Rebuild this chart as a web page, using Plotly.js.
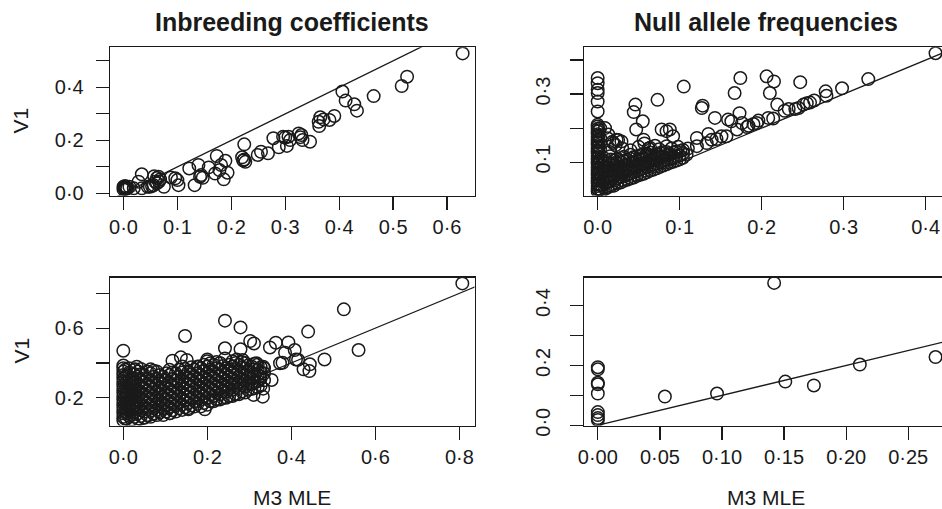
<!DOCTYPE html>
<html>
<head>
<meta charset="utf-8">
<script src="https://cdn.plot.ly/plotly-3.0.1.min.js"></script>
<style>html,body{margin:0;padding:0;background:#fff;}#chart{width:942px;height:509px;}</style>
</head>
<body>
<div id="chart"></div>
<script>
// ---------- DATA ----------
const panelTitles = ['Inbreeding coefficients', 'Null allele frequencies'];
const xTitle = 'M3 MLE';
const yTitle = 'V1';

// Top-left: inbreeding coefficients (M3 MLE, V1)
const inbreedTopPts = [
[0.629,0.528],[0.526,0.440],[0.516,0.405],[0.464,0.367],[0.406,0.384],[0.412,0.350],[0.428,0.336],[0.433,0.312],
[0.391,0.292],[0.365,0.287],[0.371,0.279],[0.382,0.277],[0.363,0.254],[0.362,0.270],[0.346,0.195],[0.330,0.220],
[0.325,0.226],[0.332,0.201],[0.328,0.212],[0.306,0.214],[0.300,0.211],[0.296,0.214],[0.303,0.179],[0.288,0.174],
[0.278,0.208],[0.309,0.201],[0.268,0.151],[0.255,0.157],[0.249,0.145],[0.224,0.185],[0.220,0.136],[0.224,0.128],
[0.226,0.119],[0.222,0.124],[0.173,0.141],[0.189,0.123],[0.181,0.107],[0.178,0.088],[0.193,0.078],[0.186,0.053],
[0.170,0.075],[0.158,0.098],[0.139,0.107],[0.122,0.094],[0.142,0.063],[0.147,0.059],[0.144,0.069],[0.132,0.031],
[0.102,0.031],[0.100,0.050],[0.096,0.057],[0.088,0.060],[0.034,0.072],[0.028,0.044],[0.034,0.019],[0.019,0.019],
[0.011,0.025],[0.000,0.025],[0.000,0.015],[0.002,0.018],[0.005,0.022],[0.003,0.028],[0.049,0.025],[0.056,0.031],
[0.062,0.038],[0.065,0.063],[0.057,0.065],[0.068,0.053],[0.075,0.025],[0.059,0.044],[0.053,0.028],[0.045,0.025],
[0.062,0.058],[0.066,0.045],[0.001,0.021],[0.004,0.016],[0.007,0.019]
];

// Top-right: null allele frequencies
const nullTopPts = [
// column at zero
[0,0.014],[0,0.022],[0,0.030],[0,0.038],[0,0.046],[0,0.054],[0,0.062],[0,0.070],[0,0.078],[0,0.086],[0,0.094],
[0,0.102],[0,0.110],[0,0.118],[0,0.126],[0,0.134],[0,0.142],[0,0.150],[0,0.158],[0,0.166],[0,0.174],[0,0.182],
[0,0.190],[0,0.198],[0,0.205],[0,0.210],[0,0.249],[0,0.278],[0,0.303],[0,0.313],[0,0.332],[0,0.347],
[0.003,0.020],[0.003,0.050],[0.003,0.080],[0.003,0.110],[0.003,0.140],[0.003,0.170],[0.003,0.200],
[0.001,0.018],[0.001,0.034],[0.001,0.050],[0.001,0.066],[0.001,0.082],[0.001,0.098],[0.001,0.114],[0.001,0.130],
[0.001,0.146],[0.001,0.162],[0.001,0.178],[0.001,0.194],
// dense wedge
[0.005,0.015],[0.005,0.031],[0.006,0.044],[0.005,0.061],[0.006,0.076],[0.005,0.090],[0.006,0.106],
[0.012,0.025],[0.012,0.041],[0.013,0.055],[0.012,0.071],[0.012,0.086],[0.013,0.100],
[0.020,0.031],[0.021,0.046],[0.020,0.060],[0.020,0.076],[0.021,0.090],[0.020,0.105],
[0.028,0.040],[0.028,0.056],[0.029,0.070],[0.028,0.085],[0.028,0.100],[0.029,0.112],
[0.036,0.048],[0.036,0.062],[0.037,0.077],[0.036,0.092],[0.036,0.107],
[0.044,0.055],[0.044,0.070],[0.045,0.085],[0.044,0.100],[0.044,0.115],
[0.052,0.063],[0.052,0.078],[0.053,0.093],[0.052,0.108],[0.052,0.120],
[0.060,0.070],[0.060,0.085],[0.061,0.100],[0.060,0.115],[0.060,0.125],
[0.068,0.078],[0.068,0.092],[0.069,0.107],[0.068,0.120],
[0.076,0.086],[0.076,0.100],[0.077,0.114],[0.076,0.127],
[0.084,0.094],[0.084,0.107],[0.085,0.120],[0.084,0.130],
[0.092,0.101],[0.092,0.114],[0.093,0.128],
[0.100,0.108],[0.100,0.120],[0.101,0.133],
[0.009,0.022],[0.009,0.037],[0.009,0.052],[0.009,0.068],[0.009,0.083],[0.009,0.098],[0.009,0.110],
[0.016,0.030],[0.016,0.047],[0.016,0.062],[0.016,0.078],[0.016,0.093],[0.016,0.108],
[0.024,0.038],[0.024,0.053],[0.024,0.068],[0.024,0.083],[0.024,0.097],[0.024,0.110],
[0.032,0.045],[0.032,0.060],[0.032,0.075],[0.032,0.090],[0.032,0.104],[0.032,0.116],
[0.040,0.052],[0.040,0.067],[0.040,0.082],[0.040,0.097],[0.040,0.110],[0.040,0.122],
[0.048,0.060],[0.048,0.075],[0.048,0.090],[0.048,0.104],[0.048,0.117],
[0.056,0.066],[0.056,0.082],[0.056,0.097],[0.056,0.111],[0.056,0.124],
[0.064,0.075],[0.064,0.090],[0.064,0.104],[0.064,0.118],[0.064,0.128],
[0.072,0.082],[0.072,0.096],[0.072,0.110],[0.072,0.123],
[0.080,0.090],[0.080,0.104],[0.080,0.117],[0.080,0.129],
[0.088,0.098],[0.088,0.110],[0.088,0.124],
[0.096,0.105],[0.096,0.118],[0.096,0.131],
[0.104,0.113],[0.104,0.126],[0.104,0.136],
// scattered above wedge
[0.012,0.170],[0.018,0.160],[0.025,0.165],[0.022,0.150],[0.030,0.140],[0.015,0.130],[0.050,0.145],[0.057,0.155],
[0.062,0.140],[0.070,0.148],[0.040,0.135],[0.075,0.138],[0.090,0.140],[0.098,0.145],[0.110,0.140],
[0.009,0.200],[0.013,0.181],[0.015,0.117],[0.019,0.156],[0.023,0.166],[0.029,0.161],[0.056,0.166],[0.047,0.196],
[0.055,0.220],[0.078,0.196],[0.084,0.191],[0.088,0.196],[0.092,0.176],[0.084,0.147],[0.064,0.142],
[0.121,0.171],[0.135,0.183],[0.151,0.176],[0.139,0.166],
[0.046,0.269],[0.044,0.247],[0.073,0.283],[0.105,0.322],[0.128,0.266],[0.127,0.259],[0.143,0.230],[0.173,0.244],
[0.159,0.225],[0.163,0.220],[0.176,0.215],[0.184,0.207],[0.196,0.222],[0.208,0.230],[0.214,0.228],[0.190,0.212],
[0.174,0.347],[0.167,0.303],[0.206,0.352],[0.215,0.337],[0.247,0.335],[0.210,0.303],[0.219,0.269],
// chain along the diagonal
[0.1085,0.122],[0.121,0.147],[0.133,0.156],[0.145,0.168],[0.157,0.176],[0.170,0.196],[0.182,0.203],[0.194,0.215],
[0.228,0.251],[0.233,0.256],[0.241,0.256],[0.245,0.259],[0.251,0.269],[0.255,0.273],[0.259,0.275],[0.264,0.281],
[0.278,0.308],[0.279,0.295],[0.298,0.317],[0.330,0.344],[0.412,0.420]
];

// Bottom-left: inbreeding coefficients (second data set)
const inbreedBotPts = [
// column at zero
[0,0.070],[0,0.090],[0,0.110],[0,0.130],[0,0.150],[0,0.170],[0,0.190],[0,0.210],[0,0.230],[0,0.250],[0,0.270],
[0,0.290],[0,0.310],[0,0.330],[0,0.350],[0,0.370],[0,0.385],[0,0.470],
[0.004,0.080],[0.004,0.120],[0.004,0.160],[0.004,0.200],[0.004,0.240],[0.004,0.280],[0.004,0.320],[0.004,0.360],
// dense cloud
[0.008,0.080],[0.008,0.110],[0.008,0.140],[0.008,0.170],[0.008,0.200],[0.008,0.230],[0.008,0.260],[0.008,0.290],[0.008,0.330],
[0.020,0.075],[0.020,0.100],[0.020,0.130],[0.020,0.160],[0.020,0.190],[0.020,0.220],[0.020,0.250],[0.020,0.280],[0.020,0.310],
[0.035,0.080],[0.035,0.110],[0.035,0.145],[0.035,0.180],[0.035,0.210],[0.035,0.245],[0.035,0.280],[0.035,0.320],[0.035,0.350],
[0.050,0.085],[0.050,0.120],[0.050,0.150],[0.050,0.185],[0.050,0.220],[0.050,0.255],[0.050,0.290],[0.050,0.330],
[0.065,0.090],[0.065,0.125],[0.065,0.160],[0.065,0.195],[0.065,0.230],[0.065,0.265],[0.065,0.300],[0.065,0.340],
[0.080,0.100],[0.080,0.130],[0.080,0.165],[0.080,0.200],[0.080,0.235],[0.080,0.270],[0.080,0.310],[0.080,0.350],
[0.095,0.100],[0.095,0.140],[0.095,0.170],[0.095,0.205],[0.095,0.240],[0.095,0.280],[0.095,0.320],
[0.110,0.110],[0.110,0.145],[0.110,0.180],[0.110,0.215],[0.110,0.250],[0.110,0.285],[0.110,0.330],[0.110,0.360],
[0.125,0.120],[0.125,0.155],[0.125,0.190],[0.125,0.225],[0.125,0.260],[0.125,0.300],[0.125,0.340],
[0.140,0.130],[0.140,0.160],[0.140,0.195],[0.140,0.230],[0.140,0.265],[0.140,0.300],[0.140,0.345],[0.140,0.380],
[0.155,0.140],[0.155,0.170],[0.155,0.205],[0.155,0.240],[0.155,0.275],[0.155,0.310],[0.155,0.350],
[0.170,0.150],[0.170,0.180],[0.170,0.215],[0.170,0.250],[0.170,0.285],[0.170,0.320],[0.170,0.360],
[0.185,0.150],[0.185,0.190],[0.185,0.225],[0.185,0.260],[0.185,0.295],[0.185,0.330],[0.185,0.370],
[0.200,0.160],[0.200,0.200],[0.200,0.235],[0.200,0.270],[0.200,0.305],[0.200,0.340],[0.200,0.380],[0.200,0.410],
[0.215,0.180],[0.215,0.210],[0.215,0.245],[0.215,0.280],[0.215,0.315],[0.215,0.350],[0.215,0.390],
[0.230,0.190],[0.230,0.220],[0.230,0.255],[0.230,0.290],[0.230,0.325],[0.230,0.360],[0.230,0.400],
[0.245,0.200],[0.245,0.235],[0.245,0.270],[0.245,0.300],[0.245,0.335],[0.245,0.370],
[0.260,0.210],[0.260,0.245],[0.260,0.280],[0.260,0.310],[0.260,0.345],[0.260,0.380],[0.260,0.410],
[0.275,0.220],[0.275,0.255],[0.275,0.290],[0.275,0.320],[0.275,0.355],[0.275,0.390],
[0.290,0.230],[0.290,0.265],[0.290,0.300],[0.290,0.335],[0.290,0.370],[0.290,0.400],
[0.305,0.250],[0.305,0.280],[0.305,0.310],[0.305,0.345],[0.305,0.380],
[0.320,0.260],[0.320,0.295],[0.320,0.330],[0.320,0.360],[0.320,0.390],
[0.335,0.300],[0.335,0.340],[0.335,0.370],
[0.014,0.095],[0.014,0.125],[0.014,0.155],[0.014,0.185],[0.014,0.215],[0.014,0.245],[0.014,0.275],[0.014,0.300],[0.014,0.345],[0.014,0.370],
[0.027,0.090],[0.027,0.118],[0.027,0.147],[0.027,0.175],[0.027,0.205],[0.027,0.235],[0.027,0.265],[0.027,0.295],[0.027,0.335],[0.027,0.360],
[0.042,0.095],[0.042,0.128],[0.042,0.162],[0.042,0.195],[0.042,0.228],[0.042,0.262],[0.042,0.300],[0.042,0.335],[0.042,0.365],
[0.057,0.100],[0.057,0.135],[0.057,0.168],[0.057,0.200],[0.057,0.238],[0.057,0.272],[0.057,0.310],[0.057,0.350],
[0.072,0.108],[0.072,0.142],[0.072,0.178],[0.072,0.212],[0.072,0.248],[0.072,0.283],[0.072,0.320],[0.072,0.355],
[0.087,0.115],[0.087,0.148],[0.087,0.182],[0.087,0.218],[0.087,0.252],[0.087,0.290],[0.087,0.330],
[0.102,0.120],[0.102,0.155],[0.102,0.188],[0.102,0.222],[0.102,0.260],[0.102,0.300],[0.102,0.340],
[0.117,0.128],[0.117,0.162],[0.117,0.198],[0.117,0.232],[0.117,0.268],[0.117,0.308],[0.117,0.345],
[0.132,0.140],[0.132,0.172],[0.132,0.208],[0.132,0.242],[0.132,0.280],[0.132,0.320],[0.132,0.360],
[0.147,0.145],[0.147,0.182],[0.147,0.215],[0.147,0.250],[0.147,0.285],[0.147,0.325],[0.147,0.365],
[0.162,0.155],[0.162,0.195],[0.162,0.232],[0.162,0.268],[0.162,0.300],[0.162,0.335],[0.162,0.375],
[0.177,0.165],[0.177,0.200],[0.177,0.235],[0.177,0.270],[0.177,0.305],[0.177,0.340],[0.177,0.380],
[0.192,0.170],[0.192,0.208],[0.192,0.242],[0.192,0.278],[0.192,0.315],[0.192,0.355],[0.192,0.390],
[0.207,0.180],[0.207,0.218],[0.207,0.252],[0.207,0.288],[0.207,0.322],[0.207,0.360],[0.207,0.398],
[0.222,0.190],[0.222,0.228],[0.222,0.262],[0.222,0.298],[0.222,0.332],[0.222,0.370],[0.222,0.405],
[0.237,0.198],[0.237,0.236],[0.237,0.272],[0.237,0.310],[0.237,0.345],[0.237,0.382],
[0.252,0.210],[0.252,0.250],[0.252,0.285],[0.252,0.318],[0.252,0.355],[0.252,0.390],
[0.267,0.220],[0.267,0.260],[0.267,0.295],[0.267,0.330],[0.267,0.365],[0.267,0.400],
[0.282,0.235],[0.282,0.270],[0.282,0.305],[0.282,0.338],[0.282,0.372],[0.282,0.405],
[0.297,0.245],[0.297,0.280],[0.297,0.318],[0.297,0.352],[0.297,0.385],
[0.312,0.255],[0.312,0.290],[0.312,0.325],[0.312,0.362],[0.312,0.395],
[0.327,0.270],[0.327,0.310],[0.327,0.345],[0.327,0.375],
// outer points
[0.807,0.857],[0.525,0.708],[0.560,0.474],[0.440,0.580],[0.479,0.420],[0.242,0.643],[0.279,0.604],[0.147,0.555],
[0.302,0.526],[0.311,0.512],[0.363,0.516],[0.349,0.489],[0.393,0.518],[0.385,0.459],[0.408,0.474],[0.411,0.420],
[0.416,0.418],[0.444,0.392],[0.429,0.363],[0.443,0.353],[0.373,0.398],[0.379,0.401],[0.353,0.302],[0.242,0.484],
[0.279,0.478],[0.270,0.420],[0.284,0.417],[0.242,0.426],[0.200,0.420],[0.151,0.417],[0.137,0.432],[0.117,0.413],
[0.032,0.378],[0.028,0.363],[0.065,0.363],[0.179,0.378],[0.310,0.216],[0.332,0.206],[0.194,0.133],[0.155,0.133],
[0.111,0.110],[0.333,0.378],[0.317,0.398],[0.333,0.252],[0.325,0.324]
];

// Bottom-right: null allele frequencies (second data set)
const nullBotPts = [
[0.142,0.476],[0.272,0.228],[0.211,0.203],[0.174,0.133],[0.151,0.146],[0.096,0.106],[0.054,0.096],
[0,0.194],[0,0.187],[0,0.142],[0,0.137],[0,0.106],[0,0.044],[0,0.034],[0,0.024],[0,0.018]
];

// identity reference line (y = x)
const identityLine = [-1, 2];

// tick values / labels
const tlXTicks = [0,0.1,0.2,0.3,0.4,0.5,0.6];
const tlXLabels = ['0·0','0·1','0·2','0·3','0·4','0·5','0·6'];
const tlYTicks = [0,0.1,0.2,0.3,0.4,0.5];
const tlYLabels = ['0·0','','0·2','','0·4',''];
const trXTicks = [0,0.1,0.2,0.3,0.4];
const trXLabels = ['0·0','0·1','0·2','0·3','0·4'];
const trYTicks = [0.1,0.2,0.3,0.4];
const trYLabels = ['0·1','','0·3',''];
const blXTicks = [0,0.2,0.4,0.6,0.8];
const blXLabels = ['0·0','0·2','0·4','0·6','0·8'];
const blYTicks = [0.2,0.4,0.6,0.8];
const blYLabels = ['0·2','','0·6',''];
const brXTicks = [0,0.05,0.1,0.15,0.2,0.25];
const brXLabels = ['0·00','0·05','0·10','0·15','0·20','0·25'];
const brYTicks = [0,0.1,0.2,0.3,0.4];
const brYLabels = ['0·0','','0·2','','0·4'];

// ---------- STYLE / BUILD ----------
const INK = '#1a1a1a';
const FONT = 'Liberation Sans, Arial, Helvetica, sans-serif';
const TICKFONT = {family: FONT, size: 20, color: INK};

function pts(arr, ax) {
  return {
    x: arr.map(p => p[0]), y: arr.map(p => p[1]),
    xaxis: 'x' + ax, yaxis: 'y' + ax,
    type: 'scatter', mode: 'markers', hoverinfo: 'skip', showlegend: false, cliponaxis: true,
    marker: {symbol: 'circle-open', size: 12.5, color: INK, line: {width: 1.5, color: INK}}
  };
}
function idLine(ax) {
  return {
    x: identityLine, y: identityLine, xaxis: 'x' + ax, yaxis: 'y' + ax,
    type: 'scatter', mode: 'lines', hoverinfo: 'skip', showlegend: false,
    line: {color: INK, width: 1.3}
  };
}
function xax(domain, range, tv, tt, anchor) {
  return {domain, range, anchor, tickmode: 'array', tickvals: tv, ticktext: tt,
    ticks: 'outside', ticklen: 13, tickwidth: 1.2, tickcolor: INK, tickfont: TICKFONT,
    ticklabelstandoff: 0,
    showline: true, mirror: true, linecolor: INK, linewidth: 1.3,
    showgrid: false, zeroline: false, fixedrange: true};
}
function yax(domain, range, tv, tt, anchor, rotated, mirror) {
  return {domain, range, anchor, tickmode: 'array', tickvals: tv, ticktext: tt,
    ticks: 'outside', ticklen: 13, tickwidth: 1.2, tickcolor: INK, tickfont: TICKFONT,
    tickangle: rotated ? -90 : 0, ticklabelstandoff: rotated ? 12 : 8,
    showline: true, mirror: mirror, linecolor: INK, linewidth: 1.3,
    showgrid: false, zeroline: false, fixedrange: true};
}

const LX = [110/942, 474.5/942];
const RX = [584.3/942, 1];
const TY = [313.5/509, 461.7/509];
const BY = [83.5/509, 231.5/509];

const data = [
  idLine(''), pts(inbreedTopPts, ''),
  idLine('2'), pts(nullTopPts, '2'),
  idLine('3'), pts(inbreedBotPts, '3'),
  idLine('4'), pts(nullBotPts, '4')
];

function ann(text, x, y, size, angle, bold) {
  return {text, x, y, xref: 'paper', yref: 'paper', showarrow: false,
    xanchor: 'center', yanchor: 'middle', textangle: angle || 0,
    font: {family: FONT, size, color: INK, weight: bold ? 'bold' : 'normal'}};
}

const layout = {
  width: 942, height: 509,
  margin: {l: 0, r: 0, t: 0, b: 0},
  paper_bgcolor: '#fff', plot_bgcolor: '#fff',
  showlegend: false,
  xaxis: xax(LX, [-0.025, 0.651], tlXTicks, tlXLabels, 'y'),
  yaxis: yax(TY, [-0.008, 0.551], tlYTicks, tlYLabels, 'x', false, true),
  xaxis2: xax(RX, [-0.0163, 0.4199], trXTicks, trXLabels, 'y2'),
  yaxis2: yax(TY, [0.002, 0.4374], trYTicks, trYLabels, 'x2', true, false),
  xaxis3: xax(LX, [-0.0317, 0.836], blXTicks, blXLabels, 'y3'),
  yaxis3: yax(BY, [0.0402, 0.891], blYTicks, blYLabels, 'x3', false, true),
  xaxis4: xax(RX, [-0.0109, 0.2772], brXTicks, brXLabels, 'y4'),
  yaxis4: yax(BY, [-0.0008, 0.494], brYTicks, brYLabels, 'x4', true, false),
  annotations: [
    ann(panelTitles[0], 292/942, 1 - 22/509, 25, 0, true),
    ann(panelTitles[1], 766/942, 1 - 22/509, 25, 0, true),
    ann(yTitle, 20.5/942, 1 - 121/509, 21, -90, false),
    ann(yTitle, 20.5/942, 1 - 351/509, 21, -90, false),
    ann(xTitle, 292/942, 1 - 497/509, 21, 0, false),
    ann(xTitle, 766/942, 1 - 497/509, 21, 0, false)
  ]
};

Plotly.newPlot('chart', data, layout, {staticPlot: true, displayModeBar: false});
</script>
</body>
</html>
